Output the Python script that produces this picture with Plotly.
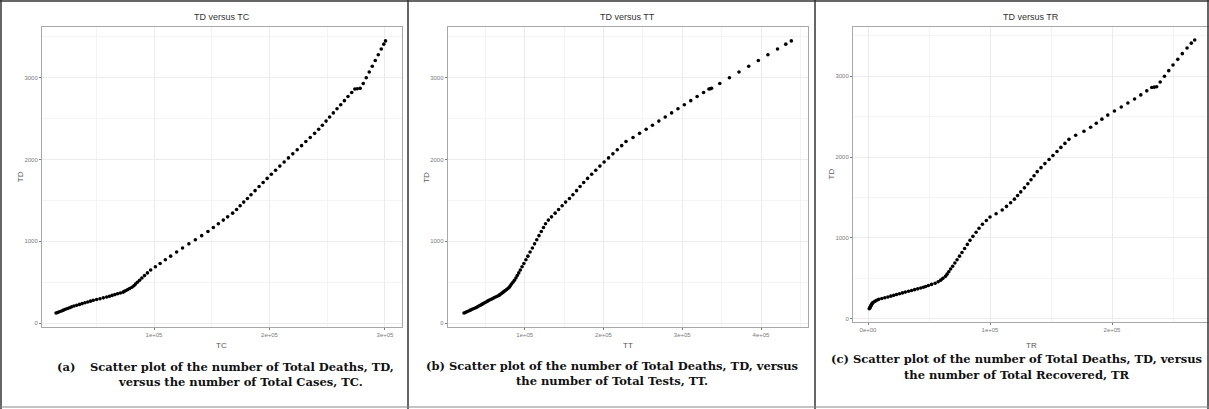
import plotly.graph_objects as go

# ---------------- data ----------------
TD = [125, 132, 140, 150, 160, 170, 180, 190, 200, 210,
      220, 230, 240, 250, 260, 270, 280, 290, 300, 310,
      320, 330, 340, 350, 360, 370, 380, 390, 400, 412,
      425, 440, 458, 478, 500, 525, 552, 582, 615, 650,
      690, 730, 775, 820, 870, 920, 970, 1020, 1070, 1120,
      1170, 1215, 1260, 1300, 1345, 1390, 1435, 1480, 1525, 1570,
      1620, 1670, 1720, 1770, 1820, 1870, 1920, 1970, 2020, 2070,
      2120, 2170, 2220, 2270, 2320, 2370, 2420, 2470, 2520, 2570,
      2620, 2670, 2720, 2770, 2820, 2862, 2866, 2870, 2930, 3000,
      3070, 3140, 3210, 3280, 3350, 3410, 3450]

TC = [15200, 16500, 18000, 19900, 21500, 23300, 25100, 26900, 28700, 30700,
      33100, 35500, 37800, 40200, 42600, 45000, 47400, 50300, 53200, 56100,
      59000, 61400, 63700, 66100, 68400, 70800, 73200, 74500, 75800, 77300,
      78900, 80800, 82600, 84000, 85600, 87500, 89500, 91800, 94300, 97100,
      101200, 105300, 109800, 114400, 119600, 124700, 130200, 135800, 141300, 146700,
      151400, 155700, 160000, 163800, 168100, 171500, 174600, 177700, 180900, 184000,
      187500, 191000, 194500, 198000, 201600, 205300, 209000, 212700, 216400, 220200,
      224000, 227800, 231500, 235300, 239100, 242600, 245800, 249000, 252100, 255300,
      258500, 261700, 264900, 268000, 271200, 273900, 276000, 278500, 281200, 283800,
      286400, 289000, 291600, 294200, 296800, 299000, 300500]

TT = [23000, 24600, 26400, 28700, 31000, 33300, 35500, 37800, 40000, 41800,
      43600, 45500, 47300, 49100, 50900, 52800, 54600, 56700, 58800, 60900,
      63000, 65100, 67200, 68600, 70000, 71300, 72600, 74000, 75300, 77000,
      78700, 80300, 81700, 83200, 85000, 86900, 88800, 90500, 92400, 94400,
      96600, 98900, 101500, 104000, 106800, 109700, 112500, 115300, 118100, 121000,
      123800, 126400, 130000, 134000, 138600, 143000, 147500, 151900, 156800, 161200,
      165800, 170300, 174900, 179800, 185000, 190200, 195500, 200800, 206400, 212000,
      217500, 223100, 228600, 237500, 245800, 254200, 262200, 270300, 278400, 286500,
      294600, 302700, 310800, 318900, 327100, 333900, 335500, 337200, 347700, 359900,
      372100, 384400, 396600, 408800, 421000, 431500, 438500]

TR = [1000, 1400, 1700, 2000, 2400, 2700, 3000, 3400, 4100, 5100,
      6100, 7100, 8800, 11300, 13800, 16300, 18700, 21100, 23400, 25800,
      28200, 30600, 33200, 35700, 38200, 40700, 43200, 45400, 47300, 49500,
      52100, 55000, 57500, 59600, 61400, 63500, 64800, 66200, 67700, 69400,
      71200, 73000, 75000, 77000, 79200, 81400, 83600, 86000, 88600, 91000,
      93800, 97000, 100000, 105000, 110000, 113500, 116900, 120000, 122600, 125200,
      128200, 131000, 133600, 136100, 138700, 141800, 145000, 148400, 151600, 154900,
      158100, 161400, 164700, 170200, 177000, 182500, 187100, 191700, 196500, 202000,
      207600, 213000, 218500, 223600, 228500, 232600, 234600, 236600, 239500, 243000,
      246500, 250000, 253900, 257600, 261500, 265000, 267800]

panel_titles = ["TD versus TC", "TD versus TT", "TD versus TR"]
x_titles = ["TC", "TT", "TR"]
y_title = "TD"

x_tickvals = [[100000, 200000, 300000],
              [100000, 200000, 300000, 400000],
              [0, 100000, 200000]]
x_ticktext = [["1e+05", "2e+05", "3e+05"],
              ["1e+05", "2e+05", "3e+05", "4e+05"],
              ["0e+00", "1e+05", "2e+05"]]
x_minor = [[50000, 150000, 250000],
           [50000, 150000, 250000, 350000, 450000],
           [50000, 150000, 250000]]
y_tickvals = [0, 1000, 2000, 3000]
y_ticktext = ["0", "1000", "2000", "3000"]
y_minor = [500, 1500, 2500, 3500]

captions = [
    ("(a)", "Scatter plot of the number of Total Deaths, TD,",
     "versus the number of Total Cases, TC."),
    ("", "(b) Scatter plot of the number of Total Deaths, TD, versus",
     "the number of Total Tests, TT."),
    ("", "(c) Scatter plot of the number of Total Deaths, TD, versus",
     "the number of Total Recovered, TR"),
]

# ---------------- geometry (pixels) ----------------
W, H = 1209, 409
panels = [
    dict(x0=42, x1=401.7, top=27.3, bot=327, xr=[3000, 314500], yr=[-46, 3616]),
    dict(x0=447.7, x1=807.7, top=27.3, bot=327, xr=[2200, 459300], yr=[-46, 3616]),
    dict(x0=853, x1=1209, top=27, bot=322, xr=[-12300, 279500], yr=[-40, 3610]),
]
cap_pos = [
    dict(lab_x=55, l1_x=88, l1_anchor="left", l2_x=240, y1=367, y2=382),
    dict(lab_x=None, l1_x=612, l1_anchor="center", l2_x=612, y1=366, y2=381),
    dict(lab_x=None, l1_x=1016, l1_anchor="center", l2_x=1016, y1=359, y2=375),
]


def px(x):
    return x / W


def py(y):
    return 1 - y / H


fig = go.Figure()
xs = [TC, TT, TR]
layout = {}
annotations = []
tick_font = dict(family="Liberation Sans, Arial, sans-serif", size=6, color="#7a7a7a")
cap_font = dict(family="DejaVu Serif, serif", size=11.5, color="#111111")
for i, p in enumerate(panels):
    suf = "" if i == 0 else str(i + 1)
    fig.add_trace(go.Scatter(
        x=xs[i], y=TD, mode="markers",
        marker=dict(color="black", size=3.6, line=dict(width=0)),
        xaxis="x" + suf, yaxis="y" + suf, showlegend=False, hoverinfo="skip"))
    common = dict(showline=True, mirror=True, linecolor="#a8a8a8", linewidth=1,
                  showgrid=True, gridcolor="#ececec", gridwidth=1,
                  zeroline=False, ticks="outside", ticklen=2, tickwidth=1,
                  tickcolor="#7a7a7a", tickfont=tick_font, fixedrange=True)
    layout["xaxis" + suf] = dict(
        common, domain=[px(p["x0"]), px(p["x1"])], range=p["xr"],
        anchor="y" + suf, tickmode="array", tickvals=x_tickvals[i],
        ticktext=x_ticktext[i],
        minor=dict(tickvals=x_minor[i], showgrid=True, gridcolor="#f4f4f4",
                   gridwidth=0.6, ticks=""))
    layout["yaxis" + suf] = dict(
        common, domain=[py(p["bot"]), py(p["top"])], range=p["yr"],
        anchor="x" + suf, tickmode="array", tickvals=y_tickvals,
        ticktext=y_ticktext,
        minor=dict(tickvals=y_minor, showgrid=True, gridcolor="#f4f4f4",
                   gridwidth=0.6, ticks=""))
    cx = (p["x0"] + p["x1"]) / 2
    annotations.append(dict(text=panel_titles[i], x=px(cx), y=py(17), xref="paper",
                            yref="paper", showarrow=False, xanchor="center", yanchor="middle",
                            font=dict(family="Liberation Sans, Arial, sans-serif", size=9,
                                      color="#333333")))
    annotations.append(dict(text=x_titles[i], x=px(cx), y=py(345), xref="paper",
                            yref="paper", showarrow=False, xanchor="center", yanchor="middle",
                            font=dict(family="Liberation Sans, Arial, sans-serif", size=8,
                                      color="#555555")))
    annotations.append(dict(text=y_title, x=px(p["x0"] - 22), y=py((p["top"] + p["bot"]) / 2),
                            xref="paper", yref="paper", showarrow=False, textangle=-90,
                            xanchor="center", yanchor="middle",
                            font=dict(family="Liberation Sans, Arial, sans-serif", size=8,
                                      color="#555555")))
    c = captions[i]
    cp = cap_pos[i]
    if c[0]:
        annotations.append(dict(text="<b>" + c[0] + "</b>", x=px(cp["lab_x"]), y=py(cp["y1"]),
                                xref="paper", yref="paper", showarrow=False, xanchor="left",
                                yanchor="middle", font=cap_font))
    annotations.append(dict(text="<b>" + c[1] + "</b>", x=px(cp["l1_x"]), y=py(cp["y1"]),
                            xref="paper", yref="paper", showarrow=False,
                            xanchor=cp["l1_anchor"], yanchor="middle", font=cap_font))
    annotations.append(dict(text="<b>" + c[2] + "</b>", x=px(cp["l2_x"]), y=py(cp["y2"]),
                            xref="paper", yref="paper", showarrow=False, xanchor="center",
                            yanchor="middle", font=cap_font))

# table-cell borders
shapes = []
for x in [1, 408, 815, 1208]:
    shapes.append(dict(type="line", xref="paper", yref="paper", x0=px(x), x1=px(x),
                       y0=0, y1=1, line=dict(color="#333333", width=1.5)))
shapes.append(dict(type="line", xref="paper", yref="paper", x0=0, x1=1,
                   y0=py(1), y1=py(1), line=dict(color="#333333", width=1.5)))
shapes.append(dict(type="line", xref="paper", yref="paper", x0=0, x1=1,
                   y0=py(407), y1=py(407), line=dict(color="#888888", width=1.2)))

fig.update_layout(
    width=W, height=H, margin=dict(l=0, r=0, t=0, b=0),
    paper_bgcolor="white", plot_bgcolor="white",
    annotations=annotations, shapes=shapes, showlegend=False, **layout)

fig.write_html("out.html", config={"displayModeBar": False})
